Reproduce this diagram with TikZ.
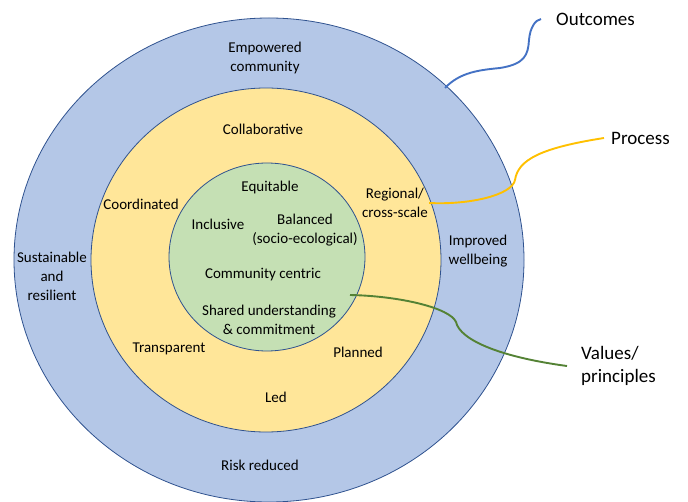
\documentclass[tikz,border=0pt]{standalone}
\usepackage{fontspec}
\setmainfont{Carlito}
\usetikzlibrary{shapes.geometric}

\definecolor{outerfill}{HTML}{B4C7E7}
\definecolor{midfill}{HTML}{FFE699}
\definecolor{innerfill}{HTML}{C5E0B4}
\definecolor{rimblue}{HTML}{2F528F}
\definecolor{outcomeline}{HTML}{4472C4}
\definecolor{processline}{HTML}{FFC000}
\definecolor{valueline}{HTML}{548235}

\tikzset{
  ring/.style={ellipse, draw=rimblue, line width=0.8pt, inner sep=0pt},
  lbl/.style={align=center, inner sep=1pt, font=\fontsize{15}{19}\selectfont},
  key/.style={align=left, anchor=west, inner sep=1pt, font=\fontsize{19}{23}\selectfont},
  lead/.style={line width=1.9pt}
}

\begin{document}
\begin{tikzpicture}[x=1pt,y=-1pt]
  \useasboundingbox (0,0) rectangle (688,502);
  \clip (0,0) rectangle (688,502);

  % Rings
  \node[ring, fill=outerfill, minimum width=510pt, minimum height=484pt] (outer) at (269,260) {};
  \node[ring, fill=midfill, minimum width=350pt, minimum height=344pt] (middle) at (266,260) {};
  \node[ring, fill=innerfill, minimum width=196pt, minimum height=188pt] (inner) at (267,257) {};

  % Outcomes
  \node[lbl] (empowered) at (265,58) {Empowered\\community};
  \node[lbl] (sustainable) at (52,276) {Sustainable\\and\\resilient};
  \node[lbl] (wellbeing) at (478,251) {Improved\\wellbeing};
  \node[lbl] (risk) at (260,465) {Risk reduced};

  % Process
  \node[lbl] (collab) at (263,129) {Collaborative};
  \node[lbl] (coord) at (141,204) {Coordinated};
  \node[lbl] (regional) at (395,203) {Regional/\\cross-scale};
  \node[lbl] (transp) at (169,349) {Transparent};
  \node[lbl] (planned) at (358,352) {Planned};
  \node[lbl] (led) at (276,397) {Led};

  % Values / principles
  \node[lbl] (equit) at (270,188) {Equitable};
  \node[lbl] (inclus) at (218,224) {Inclusive};
  \node[lbl] (balanced) at (305,230) {Balanced\\(socio-ecological)};
  \node[lbl] (centric) at (263,275) {Community centric};
  \node[lbl] (shared) at (269,320) {Shared understanding\\\& commitment};

  % Key
  \node[key] (outc) at (555,19) {Outcomes};
  \node[key] (proc) at (610,138) {Process};
  \node[key] (vals) at (580,366) {Values/\\principles};

  \coordinate (outstart) at (445,88);
  \coordinate (valstart) at (350,295);

  % Leaders
  \draw[lead, outcomeline] (outstart) .. controls (460,72) and (480,70) .. (500,68)
    .. controls (525,64) and (528,55) .. (529,40)
    .. controls (530,28) and (535,20) .. ([xshift=-14pt]outc.west);
  \draw[lead, processline] (regional.east) .. controls (470,205) and (512,195) .. (515,180)
    .. controls (518,160) and (540,148) .. ([xshift=-6pt]proc.west);
  \draw[lead, valueline] (valstart) .. controls (400,296) and (450,308) .. (456,322)
    .. controls (460,340) and (500,357) .. ([xshift=-13pt]vals.west);
\end{tikzpicture}
\end{document}
